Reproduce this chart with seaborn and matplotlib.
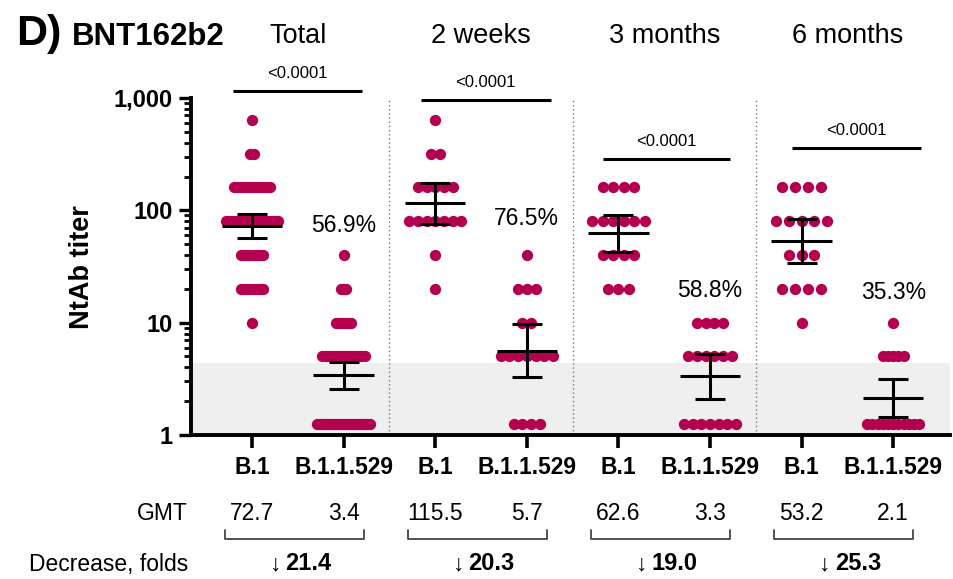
import numpy as np
import pandas as pd
import seaborn as sns
import matplotlib.pyplot as plt
import matplotlib.ticker as ticker
from matplotlib.transforms import blended_transform_factory

# titer levels seen on the chart (1.25 = below detection limit)
levels = [640, 320, 160, 80, 40, 20, 10, 5, 1.25]

# number of sera at each level
b1_2w = [1, 2, 5, 7, 1, 1, 0, 0, 0]
om_2w = [0, 0, 0, 0, 1, 3, 2, 7, 4]
b1_3m = [0, 0, 4, 6, 4, 3, 0, 0, 0]
om_3m = [0, 0, 0, 0, 0, 0, 4, 6, 7]
b1_6m = [0, 0, 4, 5, 3, 4, 1, 0, 0]
om_6m = [0, 0, 0, 0, 0, 0, 1, 5, 11]

groups = ['Total', '2 weeks', '3 months', '6 months']
variants = ['B.1', 'B.1.1.529']
lod = 1.25
shade_top = 4.4

# annotation heights (titer units)
sig_y = [1150, 960, 286, 359]
sig_span = [(-0.21, 1.20), (-0.16, 1.26), (-0.17, 1.22), (-0.10, 1.30)]
pct_y = [74, 85, 19.5, 18.4]

t975 = {17: 2.1199, 51: 2.0086}
dot_color = '#B3004F'

counts = {
    ('2 weeks', 'B.1'): b1_2w, ('2 weeks', 'B.1.1.529'): om_2w,
    ('3 months', 'B.1'): b1_3m, ('3 months', 'B.1.1.529'): om_3m,
    ('6 months', 'B.1'): b1_6m, ('6 months', 'B.1.1.529'): om_6m,
}
counts[('Total', 'B.1')] = list(np.sum([b1_2w, b1_3m, b1_6m], axis=0))
counts[('Total', 'B.1.1.529')] = list(np.sum([om_2w, om_3m, om_6m], axis=0))

# spread points of equal value sideways inside a fixed column width
span = 0.57
rows = []
for gi, g in enumerate(groups):
    for vi, v in enumerate(variants):
        pos = 2 * gi + vi
        c = counts[(g, v)]
        step = min(0.14, span / (max(c) - 1))
        for lev, n in zip(levels, c):
            for k in range(n):
                rows.append([g, v, pos, pos + (k - (n - 1) / 2) * step, lev])
df = pd.DataFrame(rows, columns=['group', 'variant', 'pos', 'x', 'titer'])

sns.set_style('ticks')
plt.rcParams['font.family'] = ['Liberation Sans', 'DejaVu Sans']
plt.rcParams['text.color'] = 'black'
plt.rcParams['axes.edgecolor'] = 'black'
plt.rcParams['xtick.color'] = 'black'
plt.rcParams['ytick.color'] = 'black'

fig = plt.figure(figsize=(9.54, 5.79), dpi=100)
ax = fig.add_axes([191 / 954, 1 - 435 / 579, 759 / 954, 337 / 579])

ax.axhspan(1, shade_top, color='#EFEFEF', zorder=0, lw=0)
for xd in [1.5, 3.5, 5.5]:
    ax.axvline(xd, color='#777777', lw=1.0, ls=(0, (1, 2)), zorder=1)

sns.scatterplot(df, x='x', y='titer', color=dot_color, s=66, linewidth=0,
                ax=ax, legend=False, zorder=2)

gmt = {}
for (g, v), sub in df.groupby(['group', 'variant']):
    lg = np.log10(sub['titer'].values)
    n = len(lg)
    m = lg.mean()
    ci = t975[n] * lg.std(ddof=1) / np.sqrt(n)
    pos = sub['pos'].iloc[0]
    gmt[(g, v)] = 10 ** m
    ax.errorbar(pos, 10 ** m,
                yerr=[[10 ** m - 10 ** (m - ci)], [10 ** (m + ci) - 10 ** m]],
                color='black', lw=2.2, capsize=10.5, capthick=2.2, zorder=3)
    ax.hlines(10 ** m, pos - 0.33, pos + 0.33, color='black', lw=2.2, zorder=3)

ax.set_yscale('log')
ax.set_ylim(1, 1000)
ax.set_xlim(-0.666, 7.62)
ax.yaxis.set_major_locator(ticker.FixedLocator([1, 10, 100, 1000]))
ax.yaxis.set_major_formatter(ticker.FuncFormatter(lambda v, p: f'{v:,.0f}'))
ax.yaxis.set_minor_locator(ticker.LogLocator(base=10, subs=np.arange(2, 10)))
ax.yaxis.set_minor_formatter(ticker.NullFormatter())
ax.set_xticks(range(8))
ax.set_xticklabels(variants * 4)
ax.set_xlabel('')
ax.set_ylabel('')
for lab in ax.get_xticklabels() + ax.get_yticklabels():
    lab.set_fontweight('bold')
ax.tick_params(axis='x', length=9, width=2.6, labelsize=16.5, pad=6)
ax.tick_params(axis='y', which='major', length=9, width=2.4, labelsize=17, pad=4)
ax.tick_params(axis='y', which='minor', length=5, width=2.0)
sns.despine(ax=ax)
for s in ['left', 'bottom']:
    ax.spines[s].set_linewidth(2.8)

fig.text(82 / 954, 1 - 267 / 579, 'NtAb titer', rotation=90, fontsize=19.5,
         fontweight='bold', ha='center', va='center')
fig.text(16 / 954, 1 - 45 / 579, 'D)', fontsize=31, fontweight='bold', va='baseline')
fig.text(72 / 954, 1 - 45 / 579, 'BNT162b2', fontsize=22.5, fontweight='bold',
         va='baseline')

tr = blended_transform_factory(ax.transData, fig.transFigure)
fig.text(188 / 954, 1 - 513 / 579, 'GMT', fontsize=16.5, ha='right', va='center')
fig.text(188 / 954, 1 - 564 / 579, 'Decrease, folds', fontsize=16.5,
         ha='right', va='center')

for gi, g in enumerate(groups):
    p0, p1 = 2 * gi, 2 * gi + 1
    mid = (p0 + p1) / 2
    ax.text(mid, 1 - 43 / 579, g, transform=tr, fontsize=19.5,
            ha='center', va='baseline')
    # significance bar
    a, b = sig_span[gi]
    ax.plot([p0 + a, p0 + b], [sig_y[gi], sig_y[gi]], color='black', lw=2.2,
            clip_on=False, solid_capstyle='butt')
    ax.annotate('<0.0001', (p0 + (a + b) / 2, sig_y[gi]), xytext=(0, 7),
                textcoords='offset points', ha='center', va='bottom',
                fontsize=12, annotation_clip=False)
    # percentage detectable
    om = df[(df['group'] == g) & (df['variant'] == 'B.1.1.529')]
    pct = 100 * (om['titer'] > lod).mean()
    ax.text(p1, pct_y[gi], f'{pct:.1f}%', fontsize=16.5, ha='center', va='center')
    # GMT row
    g1 = round(gmt[(g, 'B.1')], 1)
    g2 = round(gmt[(g, 'B.1.1.529')], 1)
    ax.text(p0, 1 - 513 / 579, f'{g1:.1f}', transform=tr, fontsize=16.5,
            ha='center', va='center')
    ax.text(p1, 1 - 513 / 579, f'{g2:.1f}', transform=tr, fontsize=16.5,
            ha='center', va='center')
    # bracket
    yb_top, yb = 1 - 530 / 579, 1 - 539 / 579
    ax.plot([p0 - 0.3, p0 - 0.3, p1 + 0.22, p1 + 0.22], [yb_top, yb, yb, yb_top],
            transform=tr, color='#444444', lw=1.3, clip_on=False)
    # fold decrease
    fold = g1 / g2
    ax.annotate('\u2193', (mid, 1 - 564 / 579), xycoords=tr, xytext=(-12, 0),
                textcoords='offset points', ha='right', va='center', fontsize=16.5,
                annotation_clip=False)
    ax.annotate(f'{fold:.1f}', (mid, 1 - 564 / 579), xycoords=tr, xytext=(-9, 0),
                textcoords='offset points', ha='left', va='center', fontsize=17,
                fontweight='bold', annotation_clip=False)

fig.savefig('out.png', dpi=100)
